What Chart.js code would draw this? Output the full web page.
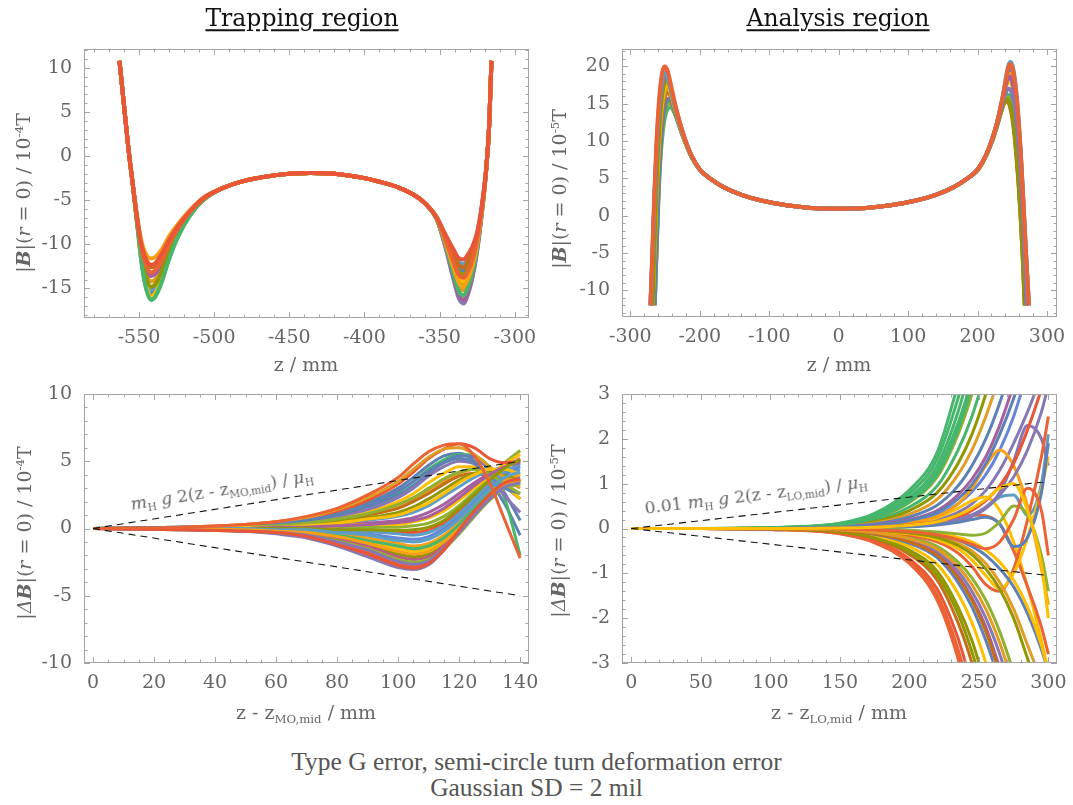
<!DOCTYPE html>
<html>
<head>
<meta charset="utf-8">
<script src="https://cdn.jsdelivr.net/npm/chart.js@4.4.0/dist/chart.umd.min.js"></script>
<style>
  body { margin: 0; width: 1073px; height: 805px; background: #fff; position: relative; overflow: hidden;
         font-family: "DejaVu Serif", serif; color: #666; }
  canvas { position: absolute; }
  .t { position: absolute; white-space: nowrap; transform: translate(-50%, -50%); line-height: 1; }
  .head { color: #111; font-size: 23.5px; text-decoration: underline; text-underline-offset: 3px; }
  .ax { font-size: 19px; }
  .rot { transform: translate(-50%, -50%) rotate(-90deg); }
  .note { font-size: 17px; }
  .sub { font-size: 0.62em; position: relative; top: 0.35em; }
  .sup { font-size: 0.62em; position: relative; top: -0.6em; }
  .cap { position: absolute; left: 0; width: 1073px; text-align: center; font-family: "Liberation Serif", serif;
         font-size: 25.5px; color: #555; line-height: 26px; }
</style>
</head>
<body>
<canvas id="trap" width="540" height="380" style="left:0;top:0"></canvas>
<canvas id="ana" width="537" height="380" style="left:536px;top:0"></canvas>
<canvas id="trapDiff" width="540" height="340" style="left:0;top:380px"></canvas>
<canvas id="anaDiff" width="537" height="340" style="left:536px;top:380px"></canvas>

<div class="t head" style="left:302px;top:19px">Trapping region</div>
<div class="t head" style="left:838px;top:19px">Analysis region</div>

<div class="t ax rot" style="left:23px;top:193px">|<b><i>B</i></b>|(<i>r</i> = 0) / 10<span class="sup">-4</span>T</div>
<div class="t ax rot" style="left:559px;top:189px">|<b><i>B</i></b>|(<i>r</i> = 0) / 10<span class="sup">-5</span>T</div>
<div class="t ax rot" style="left:24px;top:533px">|<i>Δ</i><b><i>B</i></b>|(<i>r</i> = 0) / 10<span class="sup">-4</span>T</div>
<div class="t ax rot" style="left:558px;top:531px">|<i>Δ</i><b><i>B</i></b>|(<i>r</i> = 0) / 10<span class="sup">-5</span>T</div>

<div class="t ax" style="left:306px;top:364px">z / mm</div>
<div class="t ax" style="left:839px;top:364px">z / mm</div>
<div class="t ax" style="left:306px;top:712px">z - z<span class="sub">MO,mid</span> / mm</div>
<div class="t ax" style="left:839px;top:712px">z - z<span class="sub">LO,mid</span> / mm</div>

<div class="t note" style="left:222px;top:490px;transform:translate(-50%,-50%) rotate(-9deg)"><i>m</i><span class="sub">H</span> <i>g</i> 2(z - z<span class="sub">MO,mid</span>) / <i>μ</i><span class="sub">H</span></div>
<div class="t note" style="left:756px;top:495px;transform:translate(-50%,-50%) rotate(-6.8deg)">0.01 <i>m</i><span class="sub">H</span> <i>g</i> 2(z - z<span class="sub">LO,mid</span>) / <i>μ</i><span class="sub">H</span></div>

<div class="cap" style="top:749px">Type G error, semi-circle turn deformation error<br>Gaussian SD = 2 mil</div>

<script>
// palette
const C = {
  blue: '#5E81B5', orange: '#E19C24', lime: '#8FB032', red: '#EB6235', purple: '#8778B3',
  brown: '#C56E1A', sky: '#5D9EC7', yellow: '#FFBF00', magenta: '#A5609D', olive: '#929600',
  red2: '#E95536', blue2: '#6685D9', amber: '#F89F13', pink: '#BC5B80', green: '#47B66D'
};

// ---- Trapping region, |B| on axis
const trapX = [-563, -560, -557, -554, -551, -548, -545, -542, -539, -535, -530, -524, -516, -506, -494, -480, -465, -450, -436, -420, -403, -390, -378, -368, -360, -352, -346, -341, -337, -334, -331, -328, -325, -322, -319, -317, -315.5];
const tr1 = [10.8, 5.8, 0.8, -3.4, -7.9, -12.1, -14.6, -15.6, -15.2, -13.8, -11.3, -8.9, -6.6, -4.8, -3.6, -2.8, -2.3, -2.0, -1.9, -2.0, -2.4, -2.9, -3.5, -4.3, -5.3, -7.0, -9.3, -11.4, -12.8, -13.0, -12.3, -11.1, -9.2, -6.0, -1.5, 3.5, 10.8];
const tr2 = [10.8, 5.8, 0.8, -3.4, -7.6, -11.3, -13.4, -14.2, -13.9, -12.7, -10.5, -8.5, -6.4, -4.7, -3.6, -2.8, -2.3, -2.0, -1.9, -2.0, -2.4, -2.9, -3.5, -4.3, -5.3, -7.1, -10.0, -12.8, -14.8, -15.2, -14.3, -12.6, -10.1, -6.4, -1.6, 3.5, 10.8];
const tr3 = [10.8, 5.8, 0.8, -3.4, -8.0, -12.4, -15.1, -16.2, -15.8, -14.3, -11.6, -9.1, -6.7, -4.8, -3.6, -2.8, -2.3, -2.0, -1.9, -2.0, -2.4, -2.9, -3.5, -4.3, -5.3, -7.0, -9.8, -12.4, -14.3, -14.6, -13.7, -12.2, -9.9, -6.3, -1.5, 3.5, 10.8];
const tr4 = [10.8, 5.8, 0.8, -3.4, -7.8, -11.8, -14.1, -15.0, -14.7, -13.3, -11.0, -8.7, -6.5, -4.7, -3.6, -2.8, -2.3, -2.0, -1.9, -2.0, -2.4, -2.9, -3.5, -4.3, -5.3, -7.1, -10.4, -13.8, -16.2, -16.7, -15.6, -13.7, -10.8, -6.7, -1.6, 3.5, 10.8];
const tr5 = [10.8, 5.8, 0.8, -3.4, -7.8, -11.9, -14.2, -15.2, -14.8, -13.5, -11.1, -8.8, -6.5, -4.8, -3.6, -2.8, -2.3, -2.0, -1.9, -2.0, -2.4, -2.9, -3.5, -4.3, -5.3, -6.9, -9.1, -10.8, -12.0, -12.2, -11.6, -10.5, -8.8, -5.8, -1.4, 3.5, 10.8];
const tr6 = [10.8, 5.8, 0.8, -3.4, -8.0, -12.3, -14.8, -15.9, -15.5, -14.0, -11.5, -9.0, -6.6, -4.8, -3.6, -2.8, -2.3, -2.0, -1.9, -2.0, -2.4, -2.9, -3.5, -4.3, -5.3, -7.0, -9.7, -12.1, -13.9, -14.2, -13.4, -11.9, -9.7, -6.2, -1.5, 3.5, 10.8];
const tr7 = [10.8, 5.8, 0.8, -3.4, -7.5, -11.0, -12.9, -13.6, -13.3, -12.2, -10.2, -8.3, -6.4, -4.7, -3.6, -2.8, -2.3, -2.0, -1.9, -2.0, -2.4, -2.9, -3.5, -4.3, -5.3, -7.1, -10.3, -13.5, -15.8, -16.3, -15.3, -13.4, -10.6, -6.7, -1.6, 3.5, 10.8];
const tr8 = [10.8, 5.8, 0.8, -3.4, -7.8, -11.6, -13.9, -14.8, -14.5, -13.1, -10.8, -8.6, -6.5, -4.7, -3.6, -2.8, -2.3, -2.0, -1.9, -2.0, -2.4, -2.9, -3.5, -4.3, -5.3, -7.0, -9.4, -11.6, -13.2, -13.4, -12.7, -11.4, -9.3, -6.1, -1.5, 3.5, 10.8];
const tr9 = [10.8, 5.8, 0.8, -3.4, -8.1, -12.5, -15.2, -16.3, -15.9, -14.3, -11.7, -9.1, -6.7, -4.8, -3.6, -2.8, -2.3, -2.0, -1.9, -2.0, -2.4, -2.9, -3.5, -4.3, -5.3, -7.1, -10.1, -13.2, -15.4, -15.8, -14.8, -13.1, -10.4, -6.6, -1.6, 3.5, 10.8];
const tr10 = [10.8, 5.8, 0.8, -3.4, -7.3, -10.4, -12.0, -12.6, -12.4, -11.4, -9.6, -8.0, -6.2, -4.6, -3.6, -2.8, -2.3, -2.0, -1.9, -2.0, -2.4, -2.9, -3.5, -4.3, -5.3, -6.9, -9.2, -11.1, -12.4, -12.6, -11.9, -10.8, -9.0, -5.9, -1.4, 3.5, 10.8];
const tr11 = [10.8, 5.8, 0.8, -3.4, -7.1, -9.9, -11.2, -11.6, -11.4, -10.6, -9.1, -7.7, -6.1, -4.6, -3.6, -2.8, -2.3, -2.0, -1.9, -2.0, -2.4, -2.9, -3.5, -4.3, -5.3, -7.0, -9.8, -12.5, -14.4, -14.8, -13.9, -12.4, -10.0, -6.4, -1.5, 3.5, 10.8];
const tr12 = [10.8, 5.8, 0.8, -3.4, -7.4, -10.8, -12.5, -13.2, -12.9, -11.9, -10.0, -8.2, -6.3, -4.7, -3.6, -2.8, -2.3, -2.0, -1.9, -2.0, -2.4, -2.9, -3.5, -4.3, -5.3, -7.0, -9.5, -11.9, -13.5, -13.8, -13.0, -11.7, -9.5, -6.2, -1.5, 3.5, 10.8];
const tr13 = [10.8, 5.8, 0.8, -3.4, -7.3, -10.3, -11.8, -12.3, -12.1, -11.1, -9.5, -7.9, -6.2, -4.6, -3.6, -2.8, -2.3, -2.0, -1.9, -2.0, -2.4, -2.9, -3.5, -4.3, -5.3, -6.9, -8.9, -10.5, -11.6, -11.7, -11.1, -10.2, -8.6, -5.7, -1.4, 3.5, 10.8];
const trapTicksX = [-550, -500, -450, -400, -350, -300];
const trapTicksY = [-15, -10, -5, 0, 5, 10];

// ---- Analysis region, |B| on axis
const anaX = [-271, -268, -265, -262, -259, -256, -253, -250, -247, -244, -241, -238, -234, -228, -221, -212, -200, -184, -165, -140, -110, -75, -40, 0, 40, 75, 110, 140, 165, 184, 200, 212, 221, 228, 234, 238, 241, 244, 247, 250, 253, 256, 259, 262, 265, 268, 271, 274];
const an1 = [null, null, -12, -4, 3.5, 8.5, 11.5, 13.3, 14.2, 14.5, 14.5, 14.1, 13.2, 11.6, 9.8, 7.9, 6.2, 4.9, 3.8, 2.8, 2.0, 1.4, 1.05, 0.95, 1.05, 1.4, 2.0, 2.8, 3.8, 4.9, 6.1, 8.0, 10.1, 12.2, 14.2, 15.4, 16.0, 16.2, 15.9, 15.2, 13.9, 11.8, 9.0, 5.3, 0.6, -5.2, -12, null];
const an2 = [null, null, -12, -3.8, 4.0, 9.1, 12.3, 14.1, 14.9, 15.2, 14.9, 14.3, 13.3, 11.6, 9.8, 7.9, 6.2, 4.9, 3.8, 2.8, 2.0, 1.4, 1.05, 0.95, 1.05, 1.4, 2.0, 2.8, 3.8, 4.9, 6.1, 8.0, 10.0, 12.1, 14.0, 15.2, 15.7, 15.8, 15.2, 13.9, 11.7, 8.6, 4.8, 0.2, -5.2, -12, null, null];
const an3 = [null, null, -12, -3.6, 4.5, 9.6, 12.9, 14.7, 15.5, 15.7, 15.3, 14.6, 13.4, 11.7, 9.9, 7.9, 6.2, 4.9, 3.8, 2.8, 2.0, 1.4, 1.05, 0.95, 1.05, 1.4, 2.0, 2.8, 3.8, 4.9, 6.2, 8.1, 10.3, 12.4, 14.8, 16.6, 18.0, 19.2, 19.6, 19.3, 18.0, 15.8, 12.6, 8.5, 3.5, -2.0, -7.2, -12];
const an4 = [null, -12, -5, 2.6, 8.2, 12.2, 14.8, 16.0, 16.5, 16.4, 15.8, 14.9, 13.6, 11.8, 9.9, 8.0, 6.2, 4.9, 3.8, 2.8, 2.0, 1.4, 1.05, 0.95, 1.05, 1.4, 2.0, 2.8, 3.8, 4.9, 6.1, 8.0, 10.0, 12.0, 13.9, 15.0, 15.3, 15.2, 14.5, 13.1, 10.9, 7.9, 4.3, -0.1, -5.4, -12, null, null];
const an5 = [null, -12, -4.5, 3.3, 9.0, 13.0, 15.5, 16.7, 17.1, 16.9, 16.1, 15.1, 13.8, 11.9, 10.0, 8.0, 6.2, 4.9, 3.8, 2.8, 2.0, 1.4, 1.05, 0.95, 1.05, 1.4, 2.0, 2.8, 3.8, 4.9, 6.2, 8.1, 10.2, 12.4, 14.6, 16.3, 17.5, 18.6, 19.0, 18.7, 17.5, 15.4, 12.3, 8.3, 3.4, -2.0, -7.2, -12];
const an6 = [null, -12, -4, 4, 9.8, 13.8, 16.2, 17.3, 17.6, 17.2, 16.3, 15.3, 13.9, 12.0, 10.0, 8.0, 6.2, 4.9, 3.8, 2.8, 2.0, 1.4, 1.05, 0.95, 1.05, 1.4, 2.0, 2.8, 3.8, 4.9, 6.2, 8.1, 10.2, 12.4, 14.6, 16.2, 17.3, 17.9, 18.0, 17.3, 15.8, 13.4, 10.2, 6.0, 1.0, -5.0, -12, null];
const an7 = [null, -12, -3.5, 4.8, 10.6, 14.5, 16.9, 18.0, 18.2, 17.6, 16.6, 15.5, 14.0, 12.1, 10.1, 8.0, 6.2, 4.9, 3.8, 2.8, 2.0, 1.4, 1.05, 0.95, 1.05, 1.4, 2.0, 2.8, 3.8, 4.9, 6.1, 8.0, 10.0, 12.0, 14.0, 15.1, 15.6, 15.5, 14.9, 13.5, 11.3, 8.3, 4.6, 0.1, -5.3, -12, null, null];
const an8 = [-12, -5, 2.6, 9.0, 13.5, 16.5, 18.2, 18.8, 18.6, 17.8, 16.7, 15.6, 14.1, 12.1, 10.1, 8.1, 6.2, 4.9, 3.8, 2.8, 2.0, 1.4, 1.05, 0.95, 1.05, 1.4, 2.0, 2.8, 3.8, 4.9, 6.2, 8.1, 10.2, 12.4, 14.7, 16.4, 17.6, 18.4, 18.6, 17.9, 16.3, 13.8, 10.5, 6.2, 1.1, -5.0, -12, null];
const an9 = [-12, -4.5, 3.3, 9.8, 14.2, 17.2, 18.8, 19.2, 18.9, 18.0, 16.9, 15.7, 14.2, 12.2, 10.2, 8.1, 6.2, 4.9, 3.8, 2.8, 2.0, 1.4, 1.05, 0.95, 1.05, 1.4, 2.0, 2.8, 3.8, 4.9, 6.2, 8.1, 10.2, 12.3, 14.4, 15.8, 16.6, 17.0, 16.9, 16.3, 14.9, 12.7, 9.7, 5.7, 0.8, -5.1, -12, null];
const an10 = [-12, -4.8, 3.0, 9.4, 13.9, 16.9, 18.5, 19.0, 18.8, 17.9, 16.8, 15.6, 14.1, 12.1, 10.1, 8.1, 6.2, 4.9, 3.8, 2.8, 2.0, 1.4, 1.05, 0.95, 1.05, 1.4, 2.0, 2.8, 3.8, 4.9, 6.2, 8.1, 10.3, 12.5, 15.0, 16.9, 18.6, 20.0, 20.6, 20.2, 18.8, 16.4, 13.0, 8.8, 3.8, -1.9, -7.2, -12];
const an11 = [-12, -4, 4, 10.5, 15, 18, 19.6, 20, 19.6, 18.6, 17.3, 16.0, 14.4, 12.3, 10.2, 8.1, 6.2, 4.9, 3.8, 2.8, 2.0, 1.4, 1.05, 0.95, 1.05, 1.4, 2.0, 2.8, 3.8, 4.9, 6.2, 8.1, 10.3, 12.5, 14.9, 16.8, 18.4, 19.8, 20.3, 19.9, 18.5, 16.2, 12.9, 8.7, 3.7, -1.9, -7.2, -12];
const anaTicksX = [-300, -200, -100, 0, 100, 200, 300];
const anaTicksY = [-10, -5, 0, 5, 10, 15, 20];

// ---- Trapping region, deviation from nominal
const moX = [0, 30, 50, 60, 70, 80, 90, 100, 105, 110, 115, 120, 125, 130, 135, 140];
const mo1 = [0, 0.1, 0.2, 0.4, 0.7, 1.2, 1.9, 3.0, 3.8, 4.7, 5.4, 5.6, 5.0, 3.6, 1.8, -0.5];
const mo2 = [0, 0, 0.1, 0.2, 0.4, 0.6, 1.0, 1.6, 2.1, 2.8, 3.5, 4.1, 4.4, 4.2, 3.7, 3.0];
const mo3 = [0, 0, 0, 0, 0, 0.1, 0.1, 0.1, 0.2, 0.4, 0.9, 1.7, 2.7, 3.8, 4.9, 5.8];
const mo4 = [0, -0.1, -0.2, -0.3, -0.6, -1.1, -1.8, -2.6, -2.8, -2.5, -1.6, -0.3, 1.1, 2.4, 3.3, 3.6];
const mo5 = [0, -0.1, -0.2, -0.4, -0.7, -1.3, -2.1, -2.9, -3.05, -2.7, -1.6, 0.0, 1.5, 2.7, 3.5, 3.8];
const mo6 = [0, 0, 0.1, 0.2, 0.3, 0.6, 1.0, 1.5, 2.0, 2.6, 3.3, 3.9, 4.1, 3.8, 3.1, 2.2];
const mo7 = [0, 0, 0.1, 0.1, 0.2, 0.4, 0.6, 0.9, 1.2, 1.7, 2.4, 3.1, 3.8, 4.3, 4.5, 4.3];
const mo8 = [0, 0, -0.1, -0.2, -0.3, -0.6, -1.0, -1.5, -1.7, -1.5, -0.9, 0.1, 1.3, 2.5, 3.3, 3.6];
const mo9 = [0, 0, 0, 0.1, 0.2, 0.3, 0.4, 0.6, 0.8, 1.2, 1.8, 2.6, 3.4, 4.1, 4.7, 5.0];
const mo10 = [0, 0, -0.1, -0.2, -0.4, -0.7, -1.2, -1.9, -2.1, -1.9, -1.2, -0.2, 1.0, 2.2, 3.1, 3.4];
const mo11 = [0, 0, 0, 0, 0, -0.1, -0.2, -0.3, -0.3, -0.1, 0.4, 1.3, 2.4, 3.5, 4.5, 5.2];
const mo12 = [0, 0, 0, -0.1, -0.1, -0.2, -0.4, -0.7, -0.8, -0.6, 0, 0.9, 2.0, 3.1, 4.0, 4.6];
const mo13 = [0, 0, -0.1, -0.1, -0.2, -0.4, -0.7, -1.1, -1.3, -1.1, -0.5, 0.5, 1.7, 2.8, 3.6, 4.0];
const mo14 = [0, 0, -0.1, -0.2, -0.4, -0.8, -1.3, -2.1, -2.3, -2.1, -1.3, -0.2, 1.0, 2.2, 3.2, 3.6];
const mo15 = [0, 0.1, 0.2, 0.4, 0.6, 1.0, 1.7, 2.7, 3.5, 4.4, 5.1, 5.5, 5.4, 4.5, 2.2, -2.0];
const mo16 = [0, 0.1, 0.2, 0.3, 0.6, 1.0, 1.6, 2.5, 3.2, 4.1, 4.9, 5.4, 5.3, 4.3, 2.6, 0.6];
const mo17 = [0, 0.1, 0.2, 0.3, 0.5, 0.8, 1.2, 2.0, 2.6, 3.4, 4.1, 4.6, 4.6, 4.1, 3.2, 2.2];
const mo18 = [0, -0.1, -0.2, -0.3, -0.5, -0.9, -1.5, -2.3, -2.5, -2.3, -1.5, -0.4, 0.9, 2.1, 3.0, 3.3];
const mo19 = [0, 0.1, 0.2, 0.3, 0.5, 0.9, 1.4, 2.3, 3.0, 3.9, 4.6, 5.0, 4.8, 3.8, 2.4, 1.2];
const mo20 = [0, 0, -0.1, -0.1, -0.3, -0.5, -0.9, -1.3, -1.5, -1.3, -0.7, 0.3, 1.5, 2.6, 3.3, 3.5];
const mo21 = [0, 0, 0.1, 0.2, 0.3, 0.5, 0.8, 1.2, 1.6, 2.2, 2.9, 3.6, 4.1, 4.3, 4.0, 3.5];
const mo22 = [0, 0, 0, 0.1, 0.1, 0.2, 0.3, 0.3, 0.5, 0.8, 1.3, 2.1, 3.0, 3.9, 4.8, 5.5];
const mo23 = [0, 0, 0, 0, -0.1, -0.1, -0.2, -0.4, -0.5, -0.3, 0.2, 1.1, 2.2, 3.3, 4.2, 4.8];
const mo24 = [0, 0.1, 0.3, 0.5, 0.8, 1.3, 2.1, 3.3, 4.2, 5.2, 5.9, 6.3, 6.0, 5.2, 4.9, 5.0];
const mo25 = [0, 0.1, 0.3, 0.5, 0.8, 1.4, 2.3, 3.5, 4.4, 5.3, 5.9, 6.0, 5.5, 4.6, 3.8, 3.4];
const mo26 = [0, 0.1, 0.2, 0.3, 0.6, 1.0, 1.7, 2.8, 3.5, 4.3, 4.9, 5.2, 4.9, 4.0, 3.0, 2.6];
const mo27 = [0, 0, 0.1, 0.2, 0.4, 0.7, 1.1, 1.8, 2.3, 3.0, 3.7, 4.2, 4.4, 4.0, 3.3, 2.6];
const mo28 = [0, 0, 0.1, 0.1, 0.2, 0.4, 0.7, 1.0, 1.4, 1.9, 2.6, 3.4, 4.0, 4.4, 4.4, 4.0];
const mo29 = [0, 0, 0, 0.1, 0.1, 0.2, 0.3, 0.45, 0.6, 0.9, 1.5, 2.3, 3.2, 4.0, 4.6, 4.9];
const mo30 = [0, 0, 0, 0, 0, -0.1, -0.1, -0.15, -0.1, 0.1, 0.6, 1.5, 2.5, 3.6, 4.5, 5.1];
const mo31 = [0, 0, 0, -0.1, -0.1, -0.3, -0.5, -0.9, -1.0, -0.8, -0.2, 0.7, 1.8, 2.9, 3.8, 4.2];
const mo32 = [0, 0, -0.1, -0.2, -0.3, -0.6, -1.1, -1.7, -1.9, -1.7, -1.0, 0.0, 1.2, 2.4, 3.2, 3.5];
const mo33 = [0, -0.1, -0.2, -0.3, -0.5, -1.0, -1.6, -2.45, -2.65, -2.4, -1.5, -0.3, 1.0, 2.2, 3.1, 3.4];
const mo34 = [0, -0.1, -0.2, -0.3, -0.6, -1.2, -1.9, -2.75, -2.95, -2.6, -1.6, -0.1, 1.3, 2.5, 3.4, 3.7];
const mo35 = [0, 0.1, 0.3, 0.5, 0.9, 1.5, 2.5, 3.8, 4.8, 5.7, 6.2, 6.3, 5.4, 3.4, 0.6, -2.2];
const moLimitX = [0, 140];
const moLimitUp = [0, 5];
const moLimitDown = [0, -5];
const moTicksX = [0, 20, 40, 60, 80, 100, 120, 140];
const moTicksY = [-10, -5, 0, 5, 10];

// ---- Analysis region, deviation from nominal
const loX = [0, 50, 100, 150, 175, 200, 220, 235, 245, 255, 265, 275, 285, 295, 300];
const lo1 = [0, 0, 0.02, 0.12, 0.34, 0.86, 1.7, 3.2];
const lo2 = [0, 0, 0.02, 0.1, 0.28, 0.7, 1.4, 2.6, 3.7];
const lo3 = [0, 0, 0.01, 0.08, 0.22, 0.58, 1.15, 2.1, 3.0, 4.2];
const lo4 = [0, 0, 0.01, 0.07, 0.18, 0.48, 0.95, 1.75, 2.5, 3.5];
const lo5 = [0, 0, 0.01, 0.06, 0.15, 0.4, 0.8, 1.45, 2.1, 3.0, 4.1];
const lo6 = [0, 0, 0.01, 0.05, 0.12, 0.32, 0.65, 1.2, 1.75, 2.5, 3.4];
const lo7 = [0, 0, 0, 0.04, 0.1, 0.26, 0.52, 0.95, 1.4, 2.0, 2.8, 3.8];
const lo8 = [0, 0, 0, 0.03, 0.08, 0.2, 0.4, 0.75, 1.1, 1.6, 2.3, 3.2];
const lo9 = [0, 0, 0, 0.02, 0.06, 0.15, 0.3, 0.55, 0.82, 1.2, 1.75, 2.5, 3.5];
const lo10 = [0, 0, 0, 0.02, 0.04, 0.1, 0.2, 0.36, 0.55, 0.85, 1.3, 1.9, 2.6, 3.4];
const lo11 = [0, 0, 0, 0.02, 0.05, 0.12, 0.24, 0.45, 0.62, 0.7, 0.4, -0.3, -1.3, -2.5, -3.2];
const lo12 = [0, 0, 0, 0.02, 0.05, 0.12, 0.27, 0.55, 0.9, 1.4, 1.75, 1.4, 0.5, -0.9, -1.7];
const lo13 = [0, 0, 0, 0.01, 0.03, 0.08, 0.15, 0.25, 0.3, 0.28, 0.1, -0.5, -1.3, -2.2, -2.8];
const lo14 = [0, 0, 0, 0.01, 0.03, 0.06, 0.12, 0.22, 0.3, 0.45, 0.7, 0.75, 0.3, 1.0, 2.1];
const lo15 = [0, 0, 0, 0.01, 0.02, 0.05, 0.1, 0.18, 0.27, 0.45, 0.8, 1.5, 2.3, 2.0, 1.4];
const lo16 = [0, 0, 0.02, 0.11, 0.31, 0.78, 1.55, 2.9, 4.0];
const lo17 = [0, 0, 0.01, 0.09, 0.25, 0.64, 1.28, 2.35, 3.3];
const lo18 = [0, 0, -0.02, -0.12, -0.32, -0.78, -1.6, -2.9, -4.2];
const lo19 = [0, 0, -0.02, -0.1, -0.27, -0.68, -1.35, -2.45, -3.5];
const lo20 = [0, 0, -0.01, -0.09, -0.23, -0.58, -1.15, -2.1, -3.0, -4.2];
const lo21 = [0, 0, -0.01, -0.07, -0.19, -0.48, -0.95, -1.75, -2.5, -3.5];
const lo22 = [0, 0, -0.01, -0.06, -0.16, -0.4, -0.8, -1.45, -2.1, -3.0, -4.1];
const lo23 = [0, 0, -0.01, -0.05, -0.13, -0.33, -0.65, -1.2, -1.75, -2.5, -3.4];
const lo24 = [0, 0, 0, -0.04, -0.1, -0.26, -0.52, -0.95, -1.4, -2.0, -2.8, -3.8];
const lo25 = [0, 0, 0, -0.03, -0.08, -0.2, -0.4, -0.75, -1.1, -1.6, -2.3, -3.2];
const lo26 = [0, 0, 0, -0.02, -0.06, -0.15, -0.3, -0.55, -0.85, -1.25, -1.4, -0.9, 0.2, 1.6, 2.5];
const lo27 = [0, 0, 0, -0.02, -0.05, -0.12, -0.25, -0.45, -0.7, -1.05, -1.35, -1.0, -0.2, 0.9, 1.6];
const lo28 = [0, 0, 0, -0.01, -0.04, -0.09, -0.18, -0.33, -0.5, -0.78, -1.2, -1.8, -2.6, -3.4];
const lo29 = [0, 0, 0, -0.01, -0.03, -0.07, -0.14, -0.26, -0.4, -0.6, -0.9, -1.3, -1.9, -2.7, -3.2];
const lo30 = [0, 0, -0.02, -0.11, -0.3, -0.72, -1.48, -2.7, -3.9];
const lo31 = [0, 0, -0.01, -0.08, -0.21, -0.53, -1.05, -1.9, -2.75, -3.8];
const lo32 = [0, 0, -0.01, -0.04, -0.11, -0.29, -0.58, -1.05, -1.55, -2.2, -3.1];
const lo33 = [0, 0, 0.01, 0.085, 0.24, 0.6, 1.2, 2.2, 3.15];
const lo34 = [0, 0, 0, 0.03, 0.07, 0.18, 0.36, 0.66, 0.98, 1.45, 2.1, 2.9, 3.9];
const lo35 = [0, 0, 0, 0.01, 0.03, 0.07, 0.14, 0.26, 0.4, 0.62, 0.95, 1.45, 2.2, 3.1];
const lo36 = [0, 0, 0, 0.01, 0.02, 0.05, 0.1, 0.2, 0.3, 0.48, 0.75, 1.15, 1.75, 2.6, 3.2];
const lo37 = [0, 0, 0, -0.01, -0.02, -0.05, -0.1, -0.2, -0.3, -0.48, -0.75, -1.15, -1.75, -2.6, -3.2];
const lo38 = [0, 0, 0, -0.02, -0.04, -0.1, -0.2, -0.38, -0.58, -0.9, -1.35, -2.0, -2.9, -3.8];
const lo39 = [0, 0, -0.01, -0.045, -0.12, -0.3, -0.6, -1.1, -1.6, -2.3, -3.2];
const lo40 = [0, 0, 0, -0.035, -0.09, -0.23, -0.46, -0.85, -1.25, -1.8, -2.55, -3.5];
const lo41 = [0, 0, 0, 0.01, 0.02, 0.04, 0.08, 0.14, 0.2, 0.25, 0.1, -0.4, -0.2, 0.8, 1.9];
const lo42 = [0, 0, 0, -0.01, -0.02, -0.04, -0.08, -0.12, -0.15, -0.1, 0.15, 0.5, 0.3, -0.6, -1.4];
const lo43 = [0, 0, 0, -0.01, -0.03, -0.07, -0.14, -0.25, -0.35, -0.45, -0.3, 0.2, 0.9, 0.4, -0.6];
const lo44 = [0, 0, 0, 0.01, 0.03, 0.07, 0.15, 0.3, 0.45, 0.65, 0.9, 1.0, 0.4, -0.8, -2.0];
const loLimitX = [0, 300];
const loLimitUp = [0, 1.05];
const loLimitDown = [0, -1.05];
const loTicksX = [0, 50, 100, 150, 200, 250, 300];
const loTicksY = [-3, -2, -1, 0, 1, 2, 3];

// frame with inward ticks on all four sides, like the original plots
const frameTicks = {
  id: 'frameTicks',
  afterDatasetsDraw(chart, args, o) {
    const { ctx, chartArea: a, scales: { x, y } } = chart;
    ctx.save();
    ctx.strokeStyle = '#a3a3a3';
    ctx.lineWidth = 1;
    ctx.strokeRect(a.left + 0.5, a.top + 0.5, a.width - 1, a.height - 1);
    const marks = (scale, minor, major, draw) => {
      for (let k = Math.ceil(scale.min / minor); k <= Math.floor(scale.max / minor); k++) {
        const v = k * minor;
        const isMajor = Math.abs(v / major - Math.round(v / major)) < 1e-6;
        draw(Math.round(scale.getPixelForValue(v)) + 0.5, isMajor ? 6 : 3.5);
      }
    };
    ctx.beginPath();
    marks(x, o.xMinor, o.xMajor, (p, len) => {
      ctx.moveTo(p, a.bottom); ctx.lineTo(p, a.bottom - len);
      ctx.moveTo(p, a.top); ctx.lineTo(p, a.top + len);
    });
    marks(y, o.yMinor, o.yMajor, (p, len) => {
      ctx.moveTo(a.left, p); ctx.lineTo(a.left + len, p);
      ctx.moveTo(a.right, p); ctx.lineTo(a.right - len, p);
    });
    ctx.stroke();
    ctx.restore();
  }
};

const tickFont = { family: 'DejaVu Serif', size: 19 };

function panel(id, xs, series, limits, cfg) {
  // Chart.js paints dataset 0 last, so the list is reversed to keep the later curves on top
  const datasets = series.map(([ys, color]) => ({
    data: xs.map((x, i) => ({ x, y: ys[i] ?? null })),
    borderColor: color,
    borderWidth: cfg.lw
  })).reverse();
  if (limits) {
    const [lx, up, down] = limits;
    [up, down].forEach(ys => datasets.unshift({
      data: lx.map((x, i) => ({ x, y: ys[i] })),
      borderColor: '#111', borderWidth: 1.1, borderDash: [7, 5]
    }));
  }
  const noPad = s => { s.paddingLeft = s.paddingRight = s.paddingTop = s.paddingBottom = 0; };
  new Chart(document.getElementById(id), {
    type: 'line',
    data: { datasets },
    plugins: [frameTicks],
    options: {
      responsive: false,
      animation: false,
      layout: { padding: { top: cfg.top, right: cfg.right, left: 0, bottom: 0 } },
      elements: { point: { radius: 0 }, line: { cubicInterpolationMode: 'monotone', fill: false } },
      plugins: {
        legend: { display: false },
        tooltip: { enabled: false },
        frameTicks: cfg.marks
      },
      scales: {
        x: {
          type: 'linear', min: cfg.x[0], max: cfg.x[1],
          afterBuildTicks: s => { s.ticks = cfg.xt.map(v => ({ value: v })); },
          afterFit: s => { s.height = cfg.xh; noPad(s); },
          grid: { display: false, drawTicks: false },
          border: { display: false },
          ticks: { font: tickFont, color: '#666', padding: 9, maxRotation: 0, autoSkip: false, callback: v => String(v) }
        },
        y: {
          type: 'linear', min: cfg.y[0], max: cfg.y[1],
          afterBuildTicks: s => { s.ticks = cfg.yt.map(v => ({ value: v })); },
          afterFit: s => { s.width = cfg.yw; noPad(s); },
          grid: { display: false, drawTicks: false },
          border: { display: false },
          ticks: { font: tickFont, color: '#666', padding: 12, autoSkip: false, callback: v => String(v) }
        }
      }
    }
  });
}

panel('trap', trapX, [
  [tr1, C.blue], [tr2, C.orange], [tr3, C.lime], [tr4, C.purple], [tr5, C.sky], [tr6, C.yellow], [tr7, C.magenta],
  [tr8, C.olive], [tr9, C.green], [tr10, C.brown], [tr11, C.amber], [tr12, C.red], [tr13, C.red2]
], null, {
  lw: 4, top: 49, right: 11, yw: 84, xh: 62, x: [-586.6, -290.5], y: [-18.35, 12.15],
  xt: trapTicksX, yt: trapTicksY, marks: { xMinor: 10, xMajor: 50, yMinor: 1, yMajor: 5 }
});

panel('ana', anaX, [
  [an1, C.green], [an2, C.lime], [an3, C.blue], [an4, C.brown], [an5, C.orange], [an6, C.yellow],
  [an7, C.olive], [an8, C.magenta], [an9, C.purple], [an10, C.sky], [an11, C.red]
], null, {
  lw: 4, top: 49, right: 16, yw: 86, xh: 63, x: [-312, 314.4], y: [-13.56, 22.33],
  xt: anaTicksX, yt: anaTicksY, marks: { xMinor: 20, xMajor: 100, yMinor: 1, yMajor: 5 }
});

panel('trapDiff', moX, [
  [mo1, C.blue], [mo2, C.orange], [mo3, C.lime], [mo4, C.red], [mo5, C.purple], [mo6, C.brown], [mo7, C.sky],
  [mo8, C.yellow], [mo9, C.magenta], [mo10, C.olive], [mo11, C.red2], [mo12, C.blue2], [mo13, C.amber],
  [mo14, C.pink], [mo15, C.green], [mo16, C.blue], [mo17, C.yellow], [mo18, C.lime], [mo19, C.purple],
  [mo20, C.green], [mo21, C.olive], [mo22, C.yellow], [mo23, C.sky], [mo24, C.red2], [mo25, C.orange],
  [mo26, C.blue], [mo27, C.lime], [mo28, C.yellow], [mo29, C.magenta], [mo30, C.olive], [mo31, C.sky],
  [mo32, C.amber], [mo33, C.purple], [mo34, C.red2], [mo35, C.red]
], [moLimitX, moLimitUp, moLimitDown], {
  lw: 3, top: 14, right: 11, yw: 84, xh: 57, x: [-2.95, 142.9], y: [-10, 10],
  xt: moTicksX, yt: moTicksY, marks: { xMinor: 5, xMajor: 20, yMinor: 1, yMajor: 5 }
});

panel('anaDiff', loX, [
  [lo1, C.green], [lo2, C.green], [lo3, C.lime], [lo4, C.green], [lo5, C.olive], [lo6, C.orange], [lo7, C.blue],
  [lo8, C.magenta], [lo9, C.blue2], [lo10, C.purple], [lo11, C.yellow], [lo12, C.amber], [lo13, C.red],
  [lo14, C.sky], [lo15, C.purple], [lo16, C.green], [lo17, C.green], [lo18, C.red], [lo19, C.red2],
  [lo20, C.brown], [lo21, C.olive], [lo22, C.yellow], [lo23, C.blue], [lo24, C.purple], [lo25, C.lime],
  [lo26, C.red], [lo27, C.yellow], [lo28, C.orange], [lo29, C.blue], [lo30, C.red], [lo31, C.olive], [lo32, C.magenta],
  [lo33, C.green], [lo34, C.blue], [lo35, C.red2], [lo36, C.purple], [lo37, C.yellow], [lo38, C.olive],
  [lo39, C.brown], [lo40, C.orange], [lo41, C.blue], [lo42, C.lime], [lo43, C.red], [lo44, C.yellow]
], [loLimitX, loLimitUp, loLimitDown], {
  lw: 3, top: 14, right: 16, yw: 86, xh: 57, x: [-6.7, 306.2], y: [-3, 3],
  xt: loTicksX, yt: loTicksY, marks: { xMinor: 10, xMajor: 50, yMinor: 0.2, yMajor: 1 }
});
</script>
</body>
</html>
